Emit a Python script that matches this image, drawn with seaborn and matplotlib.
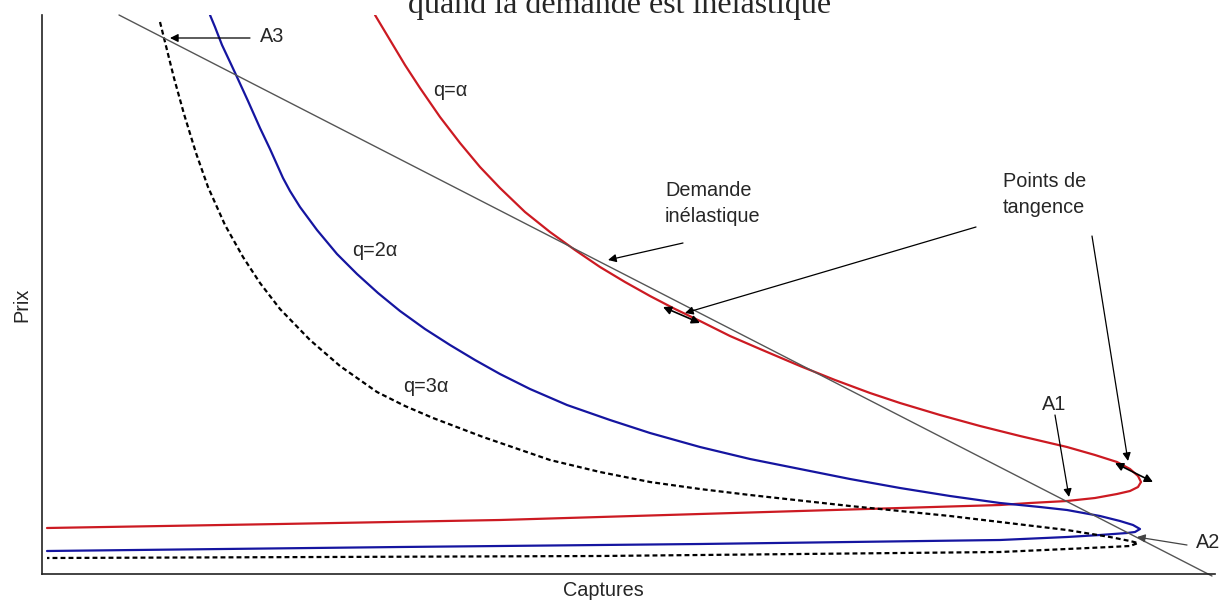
import matplotlib
matplotlib.use("Agg")
import matplotlib.pyplot as plt
import pandas as pd
import seaborn as sns

# values, arbitrary units (no ticks on the chart)
red_captures = [333, 348, 363, 378, 398, 418, 438, 458, 483, 508, 533, 558, 583, 608, 633,
                658, 688, 718, 758, 793, 828, 858, 898, 938, 978, 1025, 1053, 1075, 1088,
                1096, 1099, 1096, 1088, 1075, 1053, 1025, 988, 958, 758, 458, 238, 5]
red_prix = [559, 534, 509, 486, 457, 431, 407, 386, 362, 342, 324, 307, 292, 278, 265,
            253, 238, 225, 208, 194, 181, 171, 159, 148, 138, 127, 119, 112, 105,
            98, 92, 87, 83, 80, 76, 73, 71, 69, 63, 54, 50, 46]

blue_captures = [168, 173, 180, 188, 195, 206, 218, 228, 241, 248, 258, 275, 295, 315, 336,
                 358, 383, 408, 433, 458, 488, 525, 568, 608, 658, 708, 758, 808, 858, 908,
                 958, 998, 1025, 1058, 1078, 1091, 1098, 1093, 1085, 1058, 1025, 958, 658,
                 358, 5]
blue_prix = [559, 547, 529, 512, 497, 473, 446, 425, 396, 383, 367, 344, 320, 300, 281,
             263, 245, 229, 214, 200, 185, 169, 154, 141, 127, 115, 105, 95, 86, 78,
             71, 67, 64, 58, 53, 49, 45, 42, 41, 39, 37, 34, 30, 27, 23]

black_captures = [118, 124, 132, 142, 154, 166, 183, 201, 218, 238, 268, 298, 335, 363, 391,
                  441, 508, 558, 608, 658, 708, 808, 908, 958, 1025, 1068, 1088, 1096, 1088,
                  1068, 1025, 958, 558, 5]
black_prix = [552, 528, 496, 460, 421, 387, 349, 317, 291, 265, 234, 208, 182, 168, 156,
              137, 114, 102, 92, 85, 79, 68, 58, 52, 44, 37, 33, 31, 28,
              27, 25, 22, 18, 16]

demand_captures = [77, 1170]
demand_prix = [559, -2]

curves = pd.concat([
    pd.DataFrame({"Captures": red_captures, "Prix": red_prix, "q": "q=α"}),
    pd.DataFrame({"Captures": blue_captures, "Prix": blue_prix, "q": "q=2α"}),
    pd.DataFrame({"Captures": black_captures, "Prix": black_prix, "q": "q=3α"}),
])

sns.set_style("white")
plt.rcParams['font.family'] = ['Liberation Sans', 'DejaVu Sans']

fig = plt.figure(figsize=(12.19, 6), dpi=100)
ax = fig.add_axes([42 / 1219, 26 / 600, 1173 / 1219, 559 / 600])

sns.lineplot(data=curves, x="Captures", y="Prix", hue="q", style="q",
             palette={"q=α": "#cc1a22", "q=2α": "#1515a0", "q=3α": "black"},
             dashes={"q=α": "", "q=2α": "", "q=3α": (2.2, 1.4)},
             sort=False, estimator=None, lw=1.6, legend=False, ax=ax)
ax.plot(demand_captures, demand_prix, color="#555555", lw=1.0, clip_on=False)

ax.set_xlim(0, 1173)
ax.set_ylim(0, 559)
ax.set_xticks([])
ax.set_yticks([])
for s in ["top", "right"]:
    ax.spines[s].set_visible(False)
for s in ["left", "bottom"]:
    ax.spines[s].set_color("#222222")
    ax.spines[s].set_linewidth(1.2)

fs = 14.3
ax.text(391, 484, "q=α", fontsize=fs, ha="left", va="center")
ax.text(310, 323, "q=2α", fontsize=fs, ha="left", va="center")
ax.text(361, 188, "q=3α", fontsize=fs, ha="left", va="center")
ax.text(218, 538, "A3", fontsize=fs, ha="left", va="center")
ax.text(1012, 169, "A1", fontsize=fs, ha="center", va="center")
ax.text(1166, 31, "A2", fontsize=fs, ha="center", va="center", clip_on=False)
ax.text(623, 393, "Demande\ninélastique", fontsize=fs, ha="left", va="top", linespacing=1.45)
ax.text(961, 402, "Points de\ntangence", fontsize=fs, ha="left", va="top", linespacing=1.45)

arrow = dict(arrowstyle="-|>", color="black", lw=0.9, mutation_scale=12, shrinkA=0, shrinkB=0)
both = dict(arrowstyle="<|-|>", color="black", lw=1.2, mutation_scale=12, shrinkA=0, shrinkB=0)
ax.annotate("", xy=(128, 536), xytext=(208, 536), arrowprops=arrow)
ax.annotate("", xy=(566, 314), xytext=(641, 331), arrowprops=arrow)
ax.annotate("", xy=(643, 261), xytext=(934, 347), arrowprops=arrow)
ax.annotate("", xy=(1086, 113), xytext=(1050, 338), arrowprops=arrow)
ax.annotate("", xy=(1027, 77), xytext=(1013, 159), arrowprops=arrow)
ax.annotate("", xy=(1095, 37), xytext=(1145, 29),
            arrowprops=dict(arrowstyle="-|>", color="#444444", lw=0.9, mutation_scale=12,
                            shrinkA=0, shrinkB=0), annotation_clip=False)
ax.annotate("", xy=(621, 267), xytext=(658, 251), arrowprops=both)
ax.annotate("", xy=(1073, 111), xytext=(1111, 92), arrowprops=both)

ax.set_xlabel("")
ax.set_ylabel("")
fig.text(603 / 1219, 1 - 590 / 600, "Captures", fontsize=fs, ha="center", va="center")
fig.text(22 / 1219, 1 - 305 / 600, "Prix", fontsize=fs, ha="center", va="center", rotation=90)
fig.text(620 / 1219, 1 - 13 / 600, "quand la demande est inélastique", fontsize=23,
         family="Liberation Serif", ha="center", va="baseline")

fig.savefig("out.png", dpi=100)
